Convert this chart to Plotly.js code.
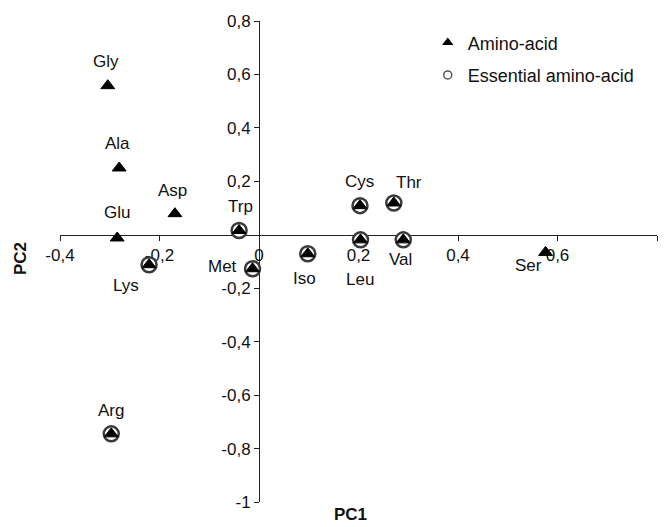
<!DOCTYPE html>
<html>
<head>
<meta charset="utf-8">
<script src="https://cdn.plot.ly/plotly-3.0.1.min.js"></script>
<style>html,body{margin:0;padding:0;background:#fff;}#chart{width:668px;height:527px;}</style>
</head>
<body>
<div id="chart"></div>
<script>
// ---- data ----
const names = ['Gly','Ala','Asp','Glu','Trp','Cys','Thr','Leu','Val','Iso','Lys','Met','Ser','Arg'];
const pc1   = [-0.304,-0.281,-0.169,-0.285,-0.040,0.203,0.271,0.204,0.290,0.098,-0.221,-0.013,0.576,-0.297];
const pc2   = [0.558,0.250,0.079,-0.012,0.016,0.109,0.119,-0.019,-0.019,-0.071,-0.112,-0.127,-0.066,-0.745];
const essential = ['Trp','Cys','Thr','Leu','Val','Iso','Lys','Met','Arg'];
const seriesNames = ['Amino-acid','Essential amino-acid'];
const xTickVals = [-0.4,-0.2,0,0.2,0.4,0.6,0.8];
const xTickText = ['-0,4','-0,2','0','0,2','0,4','0,6','0,8'];
const yTickVals = [0.8,0.6,0.4,0.2,-0.2,-0.4,-0.6,-0.8,-1];
const yTickText = ['0,8','0,6','0,4','0,2','-0,2','-0,4','-0,6','-0,8','-1'];
const xTitle = 'PC1', yTitle = 'PC2';

// ---- styling (label pixel offsets: dx right, dy down) ----
const labelOffsets = {
  Gly:[-2,-24], Ala:[-2,-24], Asp:[-2,-23], Glu:[0,-25], Trp:[1,-24], Cys:[0,-24],
  Thr:[15,-20], Leu:[0,40], Val:[-3,20], Iso:[-3,25], Lys:[-23,21], Met:[-30,-2],
  Ser:[-17,13], Arg:[0,-23]
};
const xRange = [-0.4, 0.8], yRange = [-1, 0.8];
const FONT = 'Liberation Sans, Arial, sans-serif';
const TXT = '#111';

const essIdx = names.map((n,i)=>essential.includes(n)?i:-1).filter(i=>i>=0);

const traceEss = {
  type:'scatter', mode:'markers', name: seriesNames[1], showlegend:false,
  x: essIdx.map(i=>pc1[i]), y: essIdx.map(i=>pc2[i]),
  marker:{symbol:'circle', size:15, color:'#ffffff', line:{color:'#3a3a3a', width:2.5}},
  hoverinfo:'skip'
};
const traceAll = {
  type:'scatter', mode:'markers', name: seriesNames[0], showlegend:false,
  x: pc1, y: pc2,
  marker:{symbol:'triangle-up', size:12, color:'#000000', line:{color:'#000', width:1}},
  hoverinfo:'skip'
};
// legend-only entries (no marks drawn) with the smaller legend symbols
const legA = {type:'scatter', mode:'markers', name:seriesNames[0], x:[null], y:[null],
  marker:{symbol:'triangle-up', size:10, color:'#000'}, legendrank:1, legendgroup:'a', hoverinfo:'skip'};
const legB = {type:'scatter', mode:'markers', name:seriesNames[1], x:[null], y:[null],
  marker:{symbol:'circle', size:8, color:'#fff', line:{color:'#555', width:1.5}}, legendrank:2, legendgroup:'b', hoverinfo:'skip'};

const annotations = names.map((n,i)=>({
  x: pc1[i], y: pc2[i], xref:'x', yref:'y', text:n, showarrow:false,
  xanchor:'center', yanchor:'middle',
  xshift: labelOffsets[n][0], yshift: -labelOffsets[n][1],
  font:{family:FONT, size:17, color:TXT}
}));
annotations.push({x:0.486, y:0, xref:'paper', yref:'paper', yshift:-12, xanchor:'center', yanchor:'middle',
  text:'<b>'+xTitle+'</b>', showarrow:false, font:{family:FONT,size:17,color:TXT}});
annotations.push({x:0, y:0.505, xref:'paper', yref:'paper', xshift:-40, xanchor:'center', yanchor:'middle',
  text:'<b>'+yTitle+'</b>', textangle:-90, showarrow:false, font:{family:FONT,size:17,color:TXT}});

const layout = {
  width:668, height:527,
  margin:{l:60, r:11, t:21, b:25},
  paper_bgcolor:'#fff', plot_bgcolor:'#fff',
  showlegend:true,
  legend:{x:0.616, y:0.993, xanchor:'left', yanchor:'top', bgcolor:'rgba(0,0,0,0)',
    font:{family:FONT, size:18, color:TXT}, traceorder:'grouped', tracegroupgap:6},
  xaxis:{range:xRange, anchor:'free', position:(0-yRange[0])/(yRange[1]-yRange[0]),
    showgrid:false, zeroline:false, showline:true, linecolor:'#222', linewidth:1,
    ticks:'outside', ticklen:5, tickcolor:'#222', tickvals:xTickVals, ticktext:xTickText,
    tickfont:{family:FONT,size:17,color:TXT}, layer:'below traces', fixedrange:true},
  yaxis:{range:yRange, anchor:'free', position:(0-xRange[0])/(xRange[1]-xRange[0]),
    showgrid:false, zeroline:false, showline:true, linecolor:'#222', linewidth:1,
    ticks:'outside', ticklen:5, tickcolor:'#222', tickvals:yTickVals, ticktext:yTickText,
    tickfont:{family:FONT,size:17,color:TXT}, layer:'below traces', fixedrange:true},
  annotations: annotations
};

Plotly.newPlot('chart', [traceEss, traceAll, legA, legB], layout, {displayModeBar:false, staticPlot:true});
</script>
</body>
</html>
